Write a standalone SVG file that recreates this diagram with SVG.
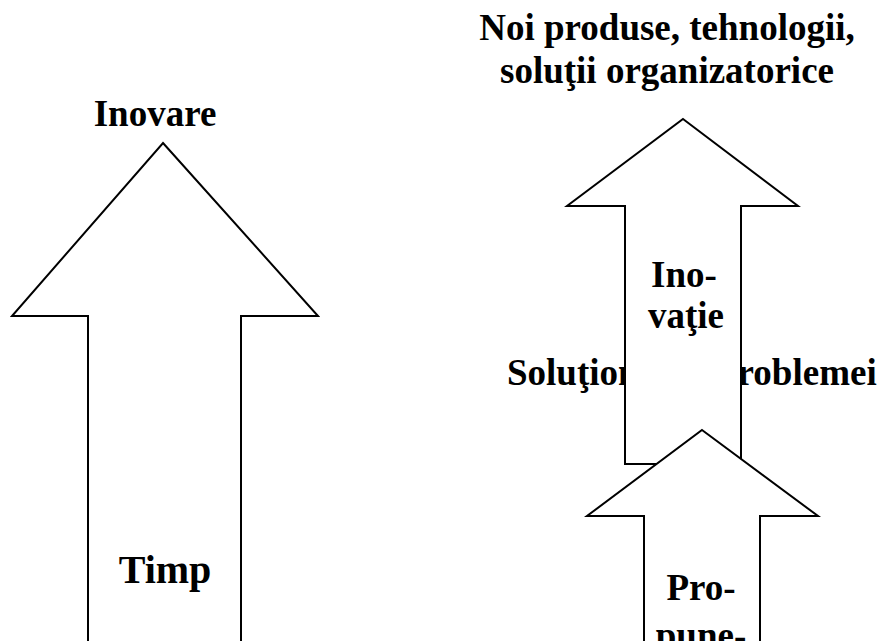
<svg xmlns="http://www.w3.org/2000/svg" width="881" height="641" viewBox="0 0 881 641">
<style>
.arrow{fill:#fff;stroke:#000;stroke-width:2;stroke-linejoin:miter}
.t{font-family:"Liberation Serif","Times New Roman",serif;font-weight:bold;font-size:37px;fill:#000}
.m{text-anchor:middle}
</style>
<rect width="881" height="641" fill="#fff"/>
<g id="title">
<text class="t m" x="667" y="40">Noi produse, tehnologii,</text>
<text class="t m" x="667" y="83">soluţii organizatorice</text>
</g>
<g id="inovare-label">
<text class="t m" x="155" y="126">Inovare</text>
</g>
<g id="arrow-timp">
<polygon class="arrow" points="163,143 318,316 241,316 241,660 88,660 88,316 12,316"/>
<text class="t m" x="165" y="583" style="font-size:40px">Timp</text>
</g>
<g id="solutionare-label">
<text class="t" x="507" y="385">Soluţionarea problemei</text>
</g>
<g id="arrow-inovatie">
<polygon class="arrow" points="683,119 798,206 741,206 741,464 625,464 625,206 567,206"/>
<text class="t m" x="684" y="287">Ino-</text>
<text class="t m" x="686" y="328">vaţie</text>
</g>
<g id="arrow-propunere">
<polygon class="arrow" points="702,430 818,516 760,516 760,660 644,660 644,516 587,516"/>
<text class="t m" x="701" y="600">Pro-</text>
<text class="t m" x="701" y="648">pune-</text>
</g>
<g id="connectors"></g>
</svg>
